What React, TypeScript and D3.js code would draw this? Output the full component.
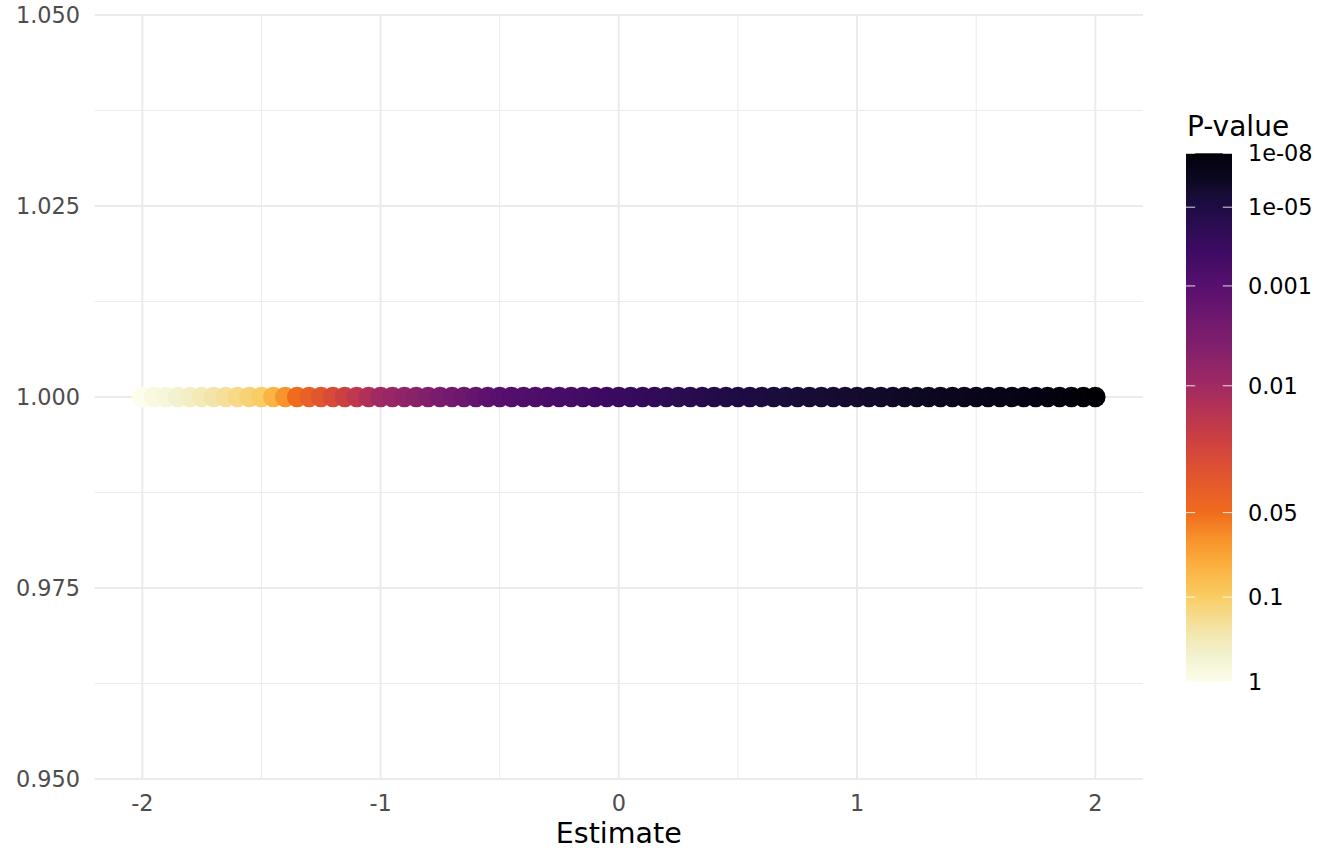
import React from 'react'
import * as d3 from 'd3'

// estimates along the x axis
const estimates = [
    -2, -1.95, -1.9, -1.85, -1.8, -1.75, -1.7, -1.65, -1.6, -1.55,
    -1.5, -1.45, -1.4, -1.35, -1.3, -1.25, -1.2, -1.15, -1.1, -1.05,
    -1, -0.95, -0.9, -0.85, -0.8, -0.75, -0.7, -0.65, -0.6, -0.55,
    -0.5, -0.45, -0.4, -0.35, -0.3, -0.25, -0.2, -0.15, -0.1, -0.05,
    0, 0.05, 0.1, 0.15, 0.2, 0.25, 0.3, 0.35, 0.4, 0.45,
    0.5, 0.55, 0.6, 0.65, 0.7, 0.75, 0.8, 0.85, 0.9, 0.95,
    1, 1.05, 1.1, 1.15, 1.2, 1.25, 1.3, 1.35, 1.4, 1.45,
    1.5, 1.55, 1.6, 1.65, 1.7, 1.75, 1.8, 1.85, 1.9, 1.95,
    2,
]
// -log10(p) for each point
const negLog10P = [
    0, 0.1, 0.2, 0.3, 0.4, 0.5, 0.6, 0.7, 0.8, 0.9,
    1, 1.1, 1.2, 1.3, 1.4, 1.5, 1.6, 1.7, 1.8, 1.9,
    2, 2.1, 2.2, 2.3, 2.4, 2.5, 2.6, 2.7, 2.8, 2.9,
    3, 3.1, 3.2, 3.3, 3.4, 3.5, 3.6, 3.7, 3.8, 3.9,
    4, 4.1, 4.2, 4.3, 4.4, 4.5, 4.6, 4.7, 4.8, 4.9,
    5, 5.1, 5.2, 5.3, 5.4, 5.5, 5.6, 5.7, 5.8, 5.9,
    6, 6.1, 6.2, 6.3, 6.4, 6.5, 6.6, 6.7, 6.8, 6.9,
    7, 7.1, 7.2, 7.3, 7.4, 7.5, 7.6, 7.7, 7.8, 7.9,
    8,
]
const yValue = 1

// legend breaks and where they sit on the colour bar (0 = bottom, 1 = top)
const pBreaks = [1, 0.1, 0.05, 0.01, 0.001, 1e-5, 1e-8]
const pLabels = ['1', '0.1', '0.05', '0.01', '0.001', '1e-05', '1e-08']
const breakPositions = [0, 0.16, 0.32, 0.56, 0.749, 0.898, 1]

const xTicks = [-2, -1, 0, 1, 2]
const xMinor = [-1.5, -0.5, 0.5, 1.5]
const yTicks = [0.95, 0.975, 1.0, 1.025, 1.05]
const yMinor = [0.9625, 0.9875, 1.0125, 1.0375]

// colour bar stops (bar position -> colour)
const colorPositions = [0, 0.05, 0.1, 0.16, 0.22, 0.27, 0.32, 0.4, 0.47, 0.56, 0.65, 0.749, 0.82, 0.898, 0.95, 1]
const colorValues = [
    '#fcfdea', '#f2f2cf', '#f3e4a6', '#f9cd64', '#fbb040', '#f8922c', '#f06c1c', '#df5230',
    '#c83c45', '#a02a63', '#7c1d6e', '#57106e', '#3b0a62', '#1e0c45', '#0d0822', '#000004',
]

const FONT = '"DejaVu Sans", Verdana, sans-serif'

export default function App() {
    const width = 1344
    const height = 864
    const panel = {left: 94.65, right: 1142.95, top: 15, bottom: 779}

    const x = d3.scaleLinear().domain([-2.2, 2.2]).range([panel.left, panel.right])
    const y = d3.scaleLinear().domain([0.95, 1.05]).range([panel.bottom, panel.top])

    const colorAt = d3.scaleLinear<string>()
        .domain(colorPositions)
        .range(colorValues)
        .interpolate(d3.interpolateLab)
        .clamp(true)
    const toBar = d3.scaleLinear()
        .domain(pBreaks.map((p) => -Math.log10(p)))
        .range(breakPositions)
        .clamp(true)

    const bar = {x: 1186, y0: 153.3, y1: 681.7, w: 46}
    const barY = d3.scaleLinear().domain([0, 1]).range([bar.y1, bar.y0])
    const gradStops = d3.range(0, 1.0001, 0.01)

    return (
        <div style={{position: 'absolute', left: 0, top: 0}}>
            <svg width={width} height={height} style={{display: 'block', background: '#fff'}}>
                <defs>
                    <linearGradient id="pbar" x1="0" y1="1" x2="0" y2="0">
                        {gradStops.map((f, i) => (
                            <stop key={i} offset={f} stopColor={colorAt(f)} />
                        ))}
                    </linearGradient>
                </defs>

                {/* grid */}
                <g>
                    {yMinor.map((v) => (
                        <line key={'ym' + v} x1={panel.left} x2={panel.right} y1={y(v)} y2={y(v)}
                              stroke="#ebebeb" strokeWidth={1} />
                    ))}
                    {xMinor.map((v) => (
                        <line key={'xm' + v} x1={x(v)} x2={x(v)} y1={panel.top} y2={panel.bottom}
                              stroke="#ebebeb" strokeWidth={1} />
                    ))}
                    {yTicks.map((v) => (
                        <line key={'y' + v} x1={panel.left} x2={panel.right} y1={y(v)} y2={y(v)}
                              stroke="#ebebeb" strokeWidth={2} />
                    ))}
                    {xTicks.map((v) => (
                        <line key={'x' + v} x1={x(v)} x2={x(v)} y1={panel.top} y2={panel.bottom}
                              stroke="#ebebeb" strokeWidth={2} />
                    ))}
                </g>

                {/* points */}
                <g>
                    {estimates.map((e, i) => (
                        <circle key={i} cx={x(e)} cy={y(yValue)} r={10.3}
                                fill={colorAt(toBar(negLog10P[i]))} />
                    ))}
                </g>

                {/* axes text */}
                <g fontFamily={FONT} fontSize={22.4} fill="#4d4d4d">
                    {yTicks.map((v) => (
                        <text key={'yl' + v} x={80} y={y(v)} textAnchor="end" dominantBaseline="central">
                            {d3.format('.3f')(v)}
                        </text>
                    ))}
                    {xTicks.map((v) => (
                        <text key={'xl' + v} x={x(v)} y={803} textAnchor="middle" dominantBaseline="central">
                            {v}
                        </text>
                    ))}
                </g>
                <text x={x(0)} y={843} textAnchor="middle" fontFamily={FONT} fontSize={28.5} fill="#000">
                    Estimate
                </text>

                {/* legend */}
                <g fontFamily={FONT}>
                    <text x={1187} y={136} fontSize={28} fill="#000">P-value</text>
                    <rect x={bar.x} y={bar.y0} width={bar.w} height={bar.y1 - bar.y0} fill="url(#pbar)" />
                    {breakPositions.map((f, i) => (
                        <g key={'lt' + i}>
                            <line x1={bar.x} x2={bar.x + 9.2} y1={barY(f)} y2={barY(f)}
                                  stroke="#fff" strokeOpacity={0.85} strokeWidth={1} />
                            <line x1={bar.x + bar.w - 9.2} x2={bar.x + bar.w} y1={barY(f)} y2={barY(f)}
                                  stroke="#fff" strokeOpacity={0.85} strokeWidth={1} />
                            <text x={1248} y={barY(f)} fontSize={22.4} fill="#000" dominantBaseline="central">
                                {pLabels[i]}
                            </text>
                        </g>
                    ))}
                </g>
            </svg>
        </div>
    )
}
